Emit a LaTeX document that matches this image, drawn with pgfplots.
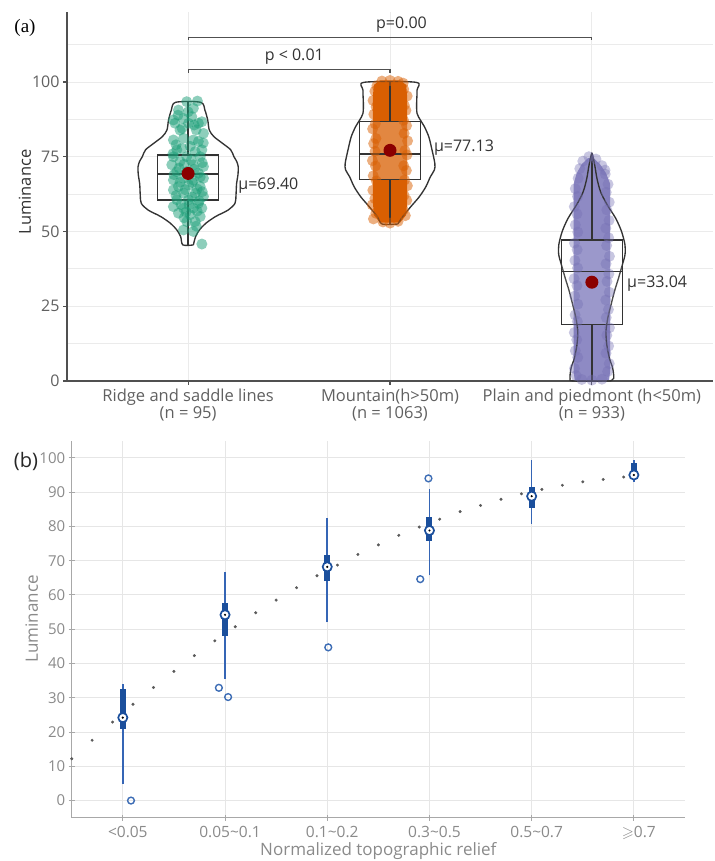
\documentclass[border=0pt]{standalone}
\usepackage{pgfplots}
\pgfplotsset{compat=1.18}
\usepackage{amssymb}
\usepackage{fontspec}
\setmainfont{Open Sans}
\newfontfamily\serifa{Liberation Serif}
\definecolor{cgreen}{HTML}{1B9E77}
\definecolor{corange}{HTML}{D95F02}
\definecolor{cpurple}{HTML}{7570B3}
\definecolor{cpurpfill}{HTML}{8E8AC4}
\definecolor{cred}{HTML}{8B0000}
\definecolor{cline}{HTML}{333333}
\definecolor{cgrid}{HTML}{EBEBEB}
\definecolor{caxis}{HTML}{505050}
\definecolor{ctick}{HTML}{606060}
\definecolor{bblue}{HTML}{1B4F9C}
\definecolor{wblue}{HTML}{3565B5}
\definecolor{oblue}{HTML}{3D6DB5}
\definecolor{bgray}{HTML}{8A8A8A}
\definecolor{bgrid}{HTML}{E6E6E6}
\definecolor{baxis}{HTML}{A8A8A8}
\definecolor{tgray}{HTML}{5A5A5A}

\begin{document}
\begin{tikzpicture}
\useasboundingbox (0,0) rectangle (714pt,861pt);
% ---------------- panel (a) ----------------
\begin{axis}[
  at={(67pt,480pt)}, anchor=south west,
  width=646pt, height=369pt, scale only axis,
  xmin=-0.6, xmax=2.6, ymin=0, ymax=123.4,
  clip=false,
  separate axis lines,
  axis x line*=bottom, axis y line*=left,
  axis line style={-, caxis, line width=1.4pt},
  xtick={0,1,2},
  xticklabels={{Ridge and saddle lines\\(n = 95)},{Mountain(h>50m)\\(n = 1063)},{Plain and piedmont (h<50m)\\(n = 933)}},
  ytick={0,25,50,75,100},
  minor ytick={12.5,37.5,62.5,87.5,112.5},
  xmajorgrids, ymajorgrids, yminorgrids,
  major grid style={cgrid, line width=0.9pt},
  minor grid style={cgrid, line width=0.9pt},
  tick align=outside, major tick length=4pt, minor tick length=0pt,
  tick style={caxis, line width=1.2pt},
  /pgf/number format/assume math mode=true,
  x tick label style={align=center, font=\fontsize{16.5}{17}\selectfont, color=ctick},
  y tick label style={font=\fontsize{16}{19}\selectfont, color=ctick},
  ylabel={Luminance},
  ylabel style={at={(axis description cs:-0.065,0.512)}, anchor=center, font=\fontsize{16.5}{20}\selectfont, color=cline},
]
% ridge points
\addplot[only marks, color=cgreen, mark=*, mark size=5.5pt, mark options={draw opacity=0, fill=cgreen, fill opacity=0.5}] coordinates {
(-0.007,93.4) (0.046,93.6) (-0.048,90.6) (0.026,91.2) (-0.073,87.3) (-0.023,87.8) (0.018,88.4) (0.068,86.7)
(-0.065,86.2) (0.002,86.2) (0.051,86.2) (-0.040,83.9) (0.076,82.8) (-0.073,80.6) (-0.023,81.2) (0.026,80.6)
(0.051,80.1) (-0.031,77.8) (-0.056,77.3) (0.035,76.7) (0.068,77.3) (-0.073,75.0) (-0.007,75.0) (0.060,75.0)
(-0.040,73.4) (-0.081,72.3) (0.026,72.3) (0.076,71.7) (-0.056,70.0) (-0.007,70.0) (0.051,69.5) (-0.023,67.8)
(-0.073,67.2) (0.026,67.2) (0.076,67.8) (-0.048,65.0) (0.002,65.6) (0.060,65.0) (-0.073,63.9) (-0.023,62.8)
(0.035,62.8) (0.076,61.7) (-0.056,60.6) (0.002,60.6) (0.051,59.4) (-0.073,58.3) (-0.023,57.8) (0.026,57.8)
(0.068,57.8) (-0.048,56.1) (0.010,55.6) (0.060,55.0) (-0.007,53.3) (0.035,53.3) (-0.023,50.5) (0.026,50.0)
(0.068,45.8) (-0.03,84.5) (0.04,84.0) (-0.06,79.0) (0.01,78.5) (0.07,73.0) (-0.02,72.5) (0.03,70.8)
(-0.07,69.0) (0.06,68.2) (-0.04,66.5) (0.045,64.2) (-0.015,64.0) (-0.06,62.0) (0.02,61.5) (0.055,60.2)
(-0.035,59.0) (0.005,58.9) (0.045,56.8) (-0.01,56.5) (0.07,63.3) (0.0,90.0) (-0.05,88.9) (0.03,85.6)
(-0.075,76.0) (0.075,79.6) (0.015,73.8) (-0.045,71.2) (0.02,66.4) (-0.02,54.6) (0.04,51.8)
};
% mountain column
\addplot[draw=none, fill=corange] coordinates {
(0.95,53) (1.05,53) (1.08,55.5) (1.085,60) (1.085,95) (1.08,99) (1.05,100.5) (0.95,100.5) (0.92,99) (0.915,95) (0.915,60) (0.92,55.5)} -- cycle;
\addplot[only marks, color=corange, mark=*, mark size=5.5pt, mark options={draw opacity=0, fill=corange, fill opacity=0.5}] coordinates {
(0.918,54.2) (0.93,56.1) (0.912,58.9) (0.925,61.0) (0.915,63.8) (0.932,66.9) (0.917,68.6) (0.928,71.9) (0.913,73.7) (0.926,76.8)
(0.919,79.4) (0.93,81.1) (0.914,84.3) (0.927,86.0) (0.92,89.2) (0.931,91.7) (0.916,93.8) (0.925,96.9) (0.935,98.7)
(1.076,55.3) (1.066,57.2) (1.083,60.4) (1.07,62.1) (1.086,65.3) (1.072,67.2) (1.081,70.4) (1.068,72.0) (1.084,75.6) (1.074,77.1)
(1.087,80.3) (1.07,82.8) (1.082,85.4) (1.067,87.2) (1.079,90.5) (1.071,92.2) (1.085,95.3) (1.068,97.6)
(0.96,100.3) (1.0,100.5) (1.04,100.2) (1.065,99.6) (0.965,53.2) (1.0,52.8) (1.04,53.4)
};
% plain column
\addplot[draw=none, fill=cpurpfill] coordinates {
(1.915,0.3) (2.085,0.3) (2.09,3) (2.09,66) (2.07,69.5) (2.04,72.5) (2.01,74.5) (1.98,74.5) (1.95,72.5) (1.925,69.5) (1.91,66) (1.91,3)} -- cycle;
\addplot[only marks, color=cpurple, mark=*, mark size=5.5pt, mark options={draw opacity=0, fill=cpurple, fill opacity=0.4}] coordinates {
(1.922,1.8) (1.914,4.2) (1.93,7.9) (1.918,10.1) (1.925,13.8) (1.913,16.2) (1.928,19.9) (1.917,22.1) (1.93,25.7) (1.915,28.4)
(1.926,31.9) (1.912,34.2) (1.929,37.8) (1.916,40.3) (1.927,43.9) (1.914,46.1) (1.93,49.8) (1.918,52.2) (1.926,55.9) (1.913,58.3)
(1.929,61.7) (1.918,64.3) (1.932,67.8)
(2.078,3.2) (2.086,5.8) (2.07,9.3) (2.083,11.7) (2.074,15.3) (2.087,17.8) (2.071,21.2) (2.082,23.9) (2.069,27.1) (2.086,29.7)
(2.075,33.3) (2.084,35.8) (2.07,39.2) (2.087,41.7) (2.073,45.3) (2.083,47.9) (2.069,51.1) (2.085,53.7) (2.074,57.2) (2.086,59.8)
(2.071,63.1) (2.08,65.8) (2.066,69.2)
(1.955,73.5) (1.985,75) (2.02,74.2) (2.05,72) (1.94,71) (2.065,70.5) (1.95,0.5) (2.0,0.3) (2.05,0.6)
};
% violins
\addplot[smooth, tension=0.5, cline, line width=1.35pt] coordinates {
(0.026,45.5) (0.037,48.3) (0.056,50.5) (0.087,52.7) (0.136,55.0) (0.199,57.2) (0.232,59.4) (0.237,62) (0.24,66) (0.247,69) (0.248,71.7) (0.24,73.5) (0.227,75) (0.211,77.3) (0.17,79.5) (0.128,81.7) (0.105,83.9) (0.097,87.3) (0.083,90.6) (0.062,93.2)
(-0.062,93.2) (-0.083,90.6) (-0.097,87.3) (-0.105,83.9) (-0.128,81.7) (-0.17,79.5) (-0.211,77.3) (-0.227,75) (-0.24,73.5) (-0.248,71.7) (-0.247,69) (-0.24,66) (-0.237,62) (-0.232,59.4) (-0.199,57.2) (-0.136,55.0) (-0.087,52.7) (-0.056,50.5) (-0.037,48.3) (-0.026,45.5) (0.026,45.5)
};
\addplot[smooth, tension=0.5, cline, line width=1.35pt] coordinates {
(1.039,52.5) (1.062,54.9) (1.103,58.3) (1.145,61.6) (1.178,65.0) (1.2,68.3) (1.22,70.6) (1.222,72.8) (1.208,77.3) (1.192,81.7) (1.17,85.1) (1.15,87.3) (1.134,89.5) (1.132,92.9) (1.134,97.3) (1.127,99.9)
(0.873,99.9) (0.866,97.3) (0.868,92.9) (0.866,89.5) (0.85,87.3) (0.83,85.1) (0.808,81.7) (0.792,77.3) (0.778,72.8) (0.78,70.6) (0.8,68.3) (0.822,65.0) (0.855,61.6) (0.897,58.3) (0.938,54.9) (0.961,52.5) (1.039,52.5)
};
\addplot[smooth, tension=0.5, cline, line width=1.35pt] coordinates {
(2.09,0) (2.108,0.9) (2.103,4.3) (2.087,7.6) (2.074,12.1) (2.07,16.6) (2.079,21.1) (2.095,25.5) (2.112,30.0) (2.132,34.4) (2.151,38.9) (2.164,42.2) (2.164,45.5) (2.147,50.0) (2.118,54.4) (2.076,58.9) (2.043,63.3) (2.025,67.8) (2.014,72.2) (2,76.1)
(1.986,72.2) (1.975,67.8) (1.957,63.3) (1.924,58.9) (1.882,54.4) (1.853,50.0) (1.836,45.5) (1.836,42.2) (1.849,38.9) (1.868,34.4) (1.888,30.0) (1.905,25.5) (1.921,21.1) (1.93,16.6) (1.926,12.1) (1.913,7.6) (1.897,4.3) (1.892,0.9) (1.91,0) (2.09,0)
};
% boxes
\addplot[cline, line width=1.35pt, fill=white, fill opacity=0.25] coordinates {(-0.151,60.5) (0.151,60.5) (0.151,75.6) (-0.151,75.6)} -- cycle;
\addplot[cline, line width=1.35pt, fill=white, fill opacity=0.25] coordinates {(0.849,67.4) (1.151,67.4) (1.151,86.7) (0.849,86.7)} -- cycle;
\addplot[cline, line width=1.35pt, fill=white, fill opacity=0.12] coordinates {(1.849,19.0) (2.151,19.0) (2.151,47.2) (1.849,47.2)} -- cycle;
\addplot[cline, line width=1.35pt] coordinates {(-0.151,69.2) (0.151,69.2)};
\addplot[cline, line width=1.35pt] coordinates {(0.849,75.9) (1.151,75.9)};
\addplot[cline, line width=1.35pt] coordinates {(1.849,36.6) (2.151,36.6)};
% whiskers
\addplot[cline, line width=1.35pt] coordinates {(0,45.5) (0,60.5)};
\addplot[cline, line width=1.35pt] coordinates {(0,75.6) (0,93.2)};
\addplot[cline, line width=1.35pt] coordinates {(1,52.5) (1,67.4)};
\addplot[cline, line width=1.35pt] coordinates {(1,86.7) (1,99.9)};
\addplot[cline, line width=1.35pt] coordinates {(2,0) (2,19.0)};
\addplot[cline, line width=1.35pt] coordinates {(2,47.2) (2,76.1)};
% means
\addplot[only marks, color=cred, mark=*, mark size=6.5pt, mark options={draw opacity=0, fill=cred}] coordinates {(0,69.40) (1,77.13) (2,33.04)};
% brackets
\addplot[caxis, line width=1.1pt] coordinates {(0,114.0) (0,114.9) (2,114.9) (2,114.0)};
\addplot[caxis, line width=1.1pt] coordinates {(0,103.1) (0,104.3) (1,104.3) (1,103.1)};
\node[font=\fontsize{16}{19}\selectfont, color=cline] at (axis cs:1.057,119.1) {p=0.00};
\node[font=\fontsize{16}{19}\selectfont, color=cline] at (axis cs:0.526,108.5) {p < 0.01};
\node[anchor=west, inner sep=0pt, font=\fontsize{16}{19}\selectfont, color=cline] at (axis cs:0.248,65.5) {µ=69.40};
\node[anchor=west, inner sep=0pt, font=\fontsize{16}{19}\selectfont, color=cline] at (axis cs:1.217,77.9) {µ=77.13};
\node[anchor=west, inner sep=0pt, font=\fontsize{16}{19}\selectfont, color=cline] at (axis cs:2.174,32.7) {µ=33.04};
\end{axis}
% ---------------- panel (b) ----------------
\begin{axis}[
  at={(71.7pt,43.3pt)}, anchor=south west,
  width=613.3pt, height=377pt, scale only axis,
  xmin=-0.5, xmax=5.5, ymin=-5, ymax=105,
  separate axis lines,
  axis x line*=bottom, axis y line*=left,
  axis line style={-, baxis, line width=1.5pt},
  xtick={0,1,2,3,4,5},
  xticklabels={<0.05, 0.05\textasciitilde0.1, 0.1\textasciitilde0.2, 0.3\textasciitilde0.5, 0.5\textasciitilde0.7, $\geqslant$0.7},
  ytick={0,10,...,100},
  xmajorgrids, ymajorgrids,
  major grid style={bgrid, line width=0.9pt},
  tick align=center, major tick length=6pt,
  tick style={baxis, line width=1pt},
  /pgf/number format/assume math mode=true,
  x tick label style={font=\fontsize{15.5}{19}\selectfont, color=bgray, xshift=5pt, yshift=-2pt},
  y tick label style={font=\fontsize{15}{19}\selectfont, color=bgray},
  xlabel={Normalized topographic relief},
  xlabel style={at={(axis description cs:0.5,-0.088)}, anchor=center, font=\fontsize{17}{20}\selectfont, color=bgray},
  ylabel={Luminance},
  ylabel style={at={(axis description cs:-0.065,0.527)}, anchor=center, font=\fontsize{17}{20}\selectfont, color=bgray},
]
\addplot[only marks, color=tgray, mark=*, mark size=1.3pt] coordinates {
(-0.5,12.2) (-0.3,17.6) (-0.1,22.9) (0.1,28.1) (0.3,33.0) (0.5,37.7) (0.7,42.3) (0.9,46.6) (1.1,50.7) (1.3,54.8)
(1.5,58.5) (1.7,62.1) (1.9,65.6) (2.1,68.7) (2.3,71.8) (2.5,74.6) (2.7,77.4) (2.9,79.8) (3.1,82.1) (3.3,84.3)
(3.5,86.1) (3.7,87.9) (3.9,89.5) (4.1,90.8) (4.3,92.0) (4.5,93.0) (4.7,93.7) (4.9,94.4)
};
% whiskers
\addplot[wblue, line width=1.5pt] coordinates {(0,4.8) (0,34.0)};
\addplot[wblue, line width=1.5pt] coordinates {(1,35.4) (1,66.8)};
\addplot[wblue, line width=1.5pt] coordinates {(2,52.0) (2,82.5)};
\addplot[wblue, line width=1.5pt] coordinates {(3,65.7) (3,91.0)};
\addplot[wblue, line width=1.5pt] coordinates {(4,80.7) (4,99.5)};
\addplot[wblue, line width=1.5pt] coordinates {(5,93.0) (5,99.5)};
% boxes
\addplot[bblue, line width=6pt] coordinates {(0,21.0) (0,32.5)};
\addplot[bblue, line width=6pt] coordinates {(1,48.0) (1,57.7)};
\addplot[bblue, line width=6pt] coordinates {(2,64.0) (2,71.7)};
\addplot[bblue, line width=6pt] coordinates {(3,75.8) (3,82.6)};
\addplot[bblue, line width=6pt] coordinates {(4,85.5) (4,91.5)};
\addplot[bblue, line width=6pt] coordinates {(5,94.5) (5,98.6)};
% medians
\addplot[only marks, color=bblue, mark=*, mark size=4.6pt, mark options={fill=white, draw=bblue, line width=1.7pt}] coordinates {(0,24.2) (1,54.2) (2,68.2) (3,78.8) (4,88.8) (5,95.0)};
\addplot[only marks, color=black, mark=*, mark size=1.2pt, mark options={fill=black, draw opacity=0}] coordinates {(0,24.2) (1,54.2) (2,68.2) (3,78.8) (4,88.8) (5,95.0)};
% outliers
\addplot[only marks, color=oblue, mark=o, mark size=3.4pt, mark options={draw=oblue, line width=1.4pt}] coordinates {(0.08,0) (0.94,32.9) (1.03,30.2) (2.01,44.7) (2.99,94.0) (2.91,64.6)};
\end{axis}
\node[font=\serifa\fontsize{19}{22}\selectfont, color=black] at (25pt,833pt) {(a)};
\node[font=\fontsize{20}{24}\selectfont, color=black!85] at (26pt,399.3pt) {(b)};
\end{tikzpicture}
\end{document}
